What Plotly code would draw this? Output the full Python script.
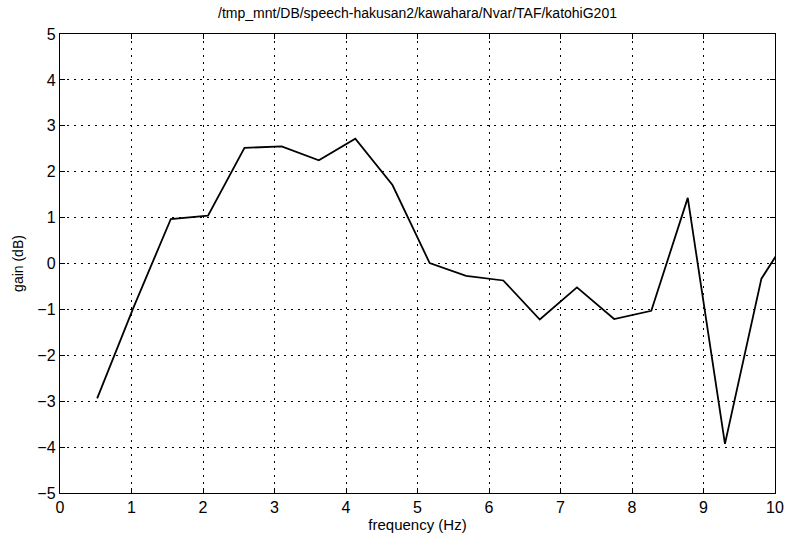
import plotly.graph_objects as go

freq = [0.52, 1.03, 1.55, 2.07, 2.58, 3.10, 3.62, 4.13, 4.65, 5.17, 5.68, 6.20,
        6.71, 7.23, 7.75, 8.27, 8.78, 9.30, 9.81, 10.33]
gain = [-2.94, -0.95, 0.97, 1.04, 2.52, 2.55, 2.25, 2.72, 1.71, 0.01, -0.27, -0.37,
        -1.22, -0.52, -1.21, -1.03, 1.43, -3.93, -0.33, 0.93]

x_ticks = list(range(0, 11))
y_ticks = list(range(-5, 6))
title = "/tmp_mnt/DB/speech-hakusan2/kawahara/Nvar/TAF/katohiG201"

font = "Liberation Sans, Arial, Helvetica, sans-serif"

fig = go.Figure()
fig.add_trace(go.Scatter(x=freq, y=gain, mode="lines",
                         line=dict(color="black", width=1.8), showlegend=False))

axis_common = dict(
    showline=True, linecolor="black", linewidth=1.4, mirror="allticks",
    ticks="inside", ticklen=5, tickcolor="black", tickwidth=1.2,
    showgrid=True, gridcolor="black", gridwidth=1.2, griddash="1.5px,5.5px",
    zeroline=False, tickfont=dict(size=16, color="black", family=font),
)

fig.update_layout(
    width=796, height=542,
    margin=dict(l=60, r=16, t=34, b=46),
    paper_bgcolor="white", plot_bgcolor="white",
    title=dict(text=title, x=0.5, xref="paper", y=0.985, yanchor="top",
               font=dict(size=14, color="black", family=font)),
    xaxis=dict(range=[0, 10], tickvals=x_ticks, **axis_common,
               title=dict(text="frequency (Hz)", standoff=3,
                          font=dict(size=15, color="black", family=font))),
    yaxis=dict(range=[-5, 5], tickvals=y_ticks, **axis_common,
               title=dict(text="gain (dB)", standoff=10,
                          font=dict(size=14, color="black", family=font))),
)

fig.write_html("out.html")
